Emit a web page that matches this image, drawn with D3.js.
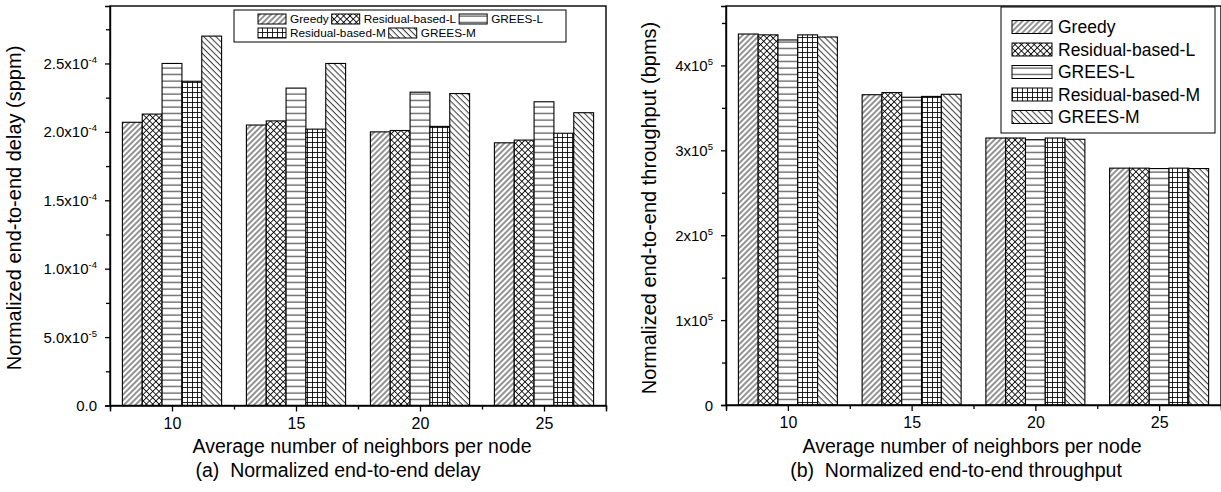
<!DOCTYPE html>
<html>
<head>
<meta charset="utf-8">
<script src="https://cdn.jsdelivr.net/npm/d3@7"></script>
<style>
  html, body { margin: 0; padding: 0; background: #fff; }
  svg { display: block; font-family: "Liberation Sans", Arial, sans-serif; }
</style>
</head>
<body>
<svg id="chart" width="1221" height="492"></svg>
<script>
// ---------------- data ----------------
const categories = [10, 15, 20, 25];
const seriesNames = ["Greedy", "Residual-based-L", "GREES-L", "Residual-based-M", "GREES-M"];

// (a) Normalized end-to-end delay (sppm)
const delayGreedy = [2.07e-4, 2.05e-4, 2.00e-4, 1.92e-4];
const delayResidualL = [2.13e-4, 2.08e-4, 2.01e-4, 1.94e-4];
const delayGreesL = [2.50e-4, 2.32e-4, 2.29e-4, 2.22e-4];
const delayResidualM = [2.37e-4, 2.02e-4, 2.04e-4, 1.99e-4];
const delayGreesM = [2.70e-4, 2.50e-4, 2.28e-4, 2.14e-4];

// (b) Normalized end-to-end throughput (bpms)
const thrGreedy = [4.37e5, 3.655e5, 3.145e5, 2.79e5];
const thrResidualL = [4.36e5, 3.68e5, 3.145e5, 2.79e5];
const thrGreesL = [4.30e5, 3.625e5, 3.125e5, 2.785e5];
const thrResidualM = [4.36e5, 3.635e5, 3.145e5, 2.79e5];
const thrGreesM = [4.335e5, 3.66e5, 3.13e5, 2.785e5];

// tick labels
const delayTicks = [0, 5e-5, 1e-4, 1.5e-4, 2e-4, 2.5e-4];
const delayTickMantissa = ["0.0", "5.0x10", "1.0x10", "1.5x10", "2.0x10", "2.5x10"];
const delayTickExponent = ["", "-5", "-4", "-4", "-4", "-4"];
const thrTicks = [0, 1e5, 2e5, 3e5, 4e5];
const thrTickMantissa = ["0", "1x10", "2x10", "3x10", "4x10"];
const thrTickExponent = ["", "5", "5", "5", "5"];

const xTitle = "Average number of neighbors per node";
const delayYTitle = "Normalized end-to-end delay (sppm)";
const thrYTitle = "Normalized end-to-end throughput (bpms)";
const captionA = "(a)  Normalized end-to-end delay";
const captionB = "(b)  Normalized end-to-end throughput";

// ---------------- drawing ----------------
const svg = d3.select("#chart");
const defs = svg.append("defs");
const patternIds = ["pGreedy", "pResL", "pGreesL", "pResM", "pGreesM"];

function linePattern(id, w, h, transform, lines) {
  const p = defs.append("pattern").attr("id", id)
    .attr("patternUnits", "userSpaceOnUse").attr("width", w).attr("height", h);
  if (transform) p.attr("patternTransform", transform);
  p.append("rect").attr("width", w).attr("height", h).attr("fill", "#fff");
  lines.forEach(l => p.append("line").attr("x1", l[0]).attr("y1", l[1]).attr("x2", l[2]).attr("y2", l[3])
    .attr("stroke", "#000").attr("stroke-width", 0.85));
}
linePattern("pGreedy", 4, 4, "rotate(45)", [[2, 0, 2, 4]]);
linePattern("pGreesM", 4.3, 4, "rotate(-45)", [[2, 0, 2, 4]]);
linePattern("pGreesL", 10, 6.5, null, [[0, 3, 10, 3]]);
linePattern("pResM", 5, 5, null, [[0, 2.5, 5, 2.5], [2.5, 0, 2.5, 5]]);
linePattern("pResL", 4.5, 4.5, "rotate(45)", [[0, 2.25, 4.5, 2.25], [2.25, 0, 2.25, 4.5]]);

function drawPanel(cfg) {
  const g = svg.append("g");
  const x = d3.scaleLinear().domain([7.5, 27.5]).range([cfg.left, cfg.right]);
  const y = d3.scaleLinear().domain([0, cfg.yMax]).range([cfg.bottom, cfg.top]);
  const barW = 0.8;

  // bars
  cfg.series.forEach((vals, si) => {
    g.selectAll(null).data(vals).enter().append("rect")
      .attr("x", (d, i) => x(categories[i] + (si - 2.5) * barW))
      .attr("y", d => y(d))
      .attr("width", x(barW) - x(0))
      .attr("height", d => y(0) - y(d))
      .attr("fill", `url(#${patternIds[si]})`)
      .attr("stroke", "#000").attr("stroke-width", 1.1);
  });

  // frame
  g.append("rect").attr("x", cfg.left).attr("y", cfg.top)
    .attr("width", cfg.right - cfg.left).attr("height", cfg.bottom - cfg.top)
    .attr("fill", "none").attr("stroke", "#000").attr("stroke-width", 1.4);

  // x axis
  const xAxis = d3.axisBottom(x).tickValues(categories).tickSize(6).tickFormat(d3.format("d"));
  const xa = g.append("g").attr("transform", `translate(0,${cfg.bottom})`).call(xAxis);
  xa.select(".domain").attr("stroke-width", 1.4);
  xa.selectAll(".tick line").attr("stroke-width", 1.3);
  xa.selectAll("text").attr("font-size", 16).attr("font-family", "Liberation Sans, Arial, sans-serif")
    .attr("fill", "#000").attr("y", 12);
  const xMinor = d3.axisBottom(x).tickValues([7.5, 12.5, 17.5, 22.5, 27.5]).tickSize(4).tickFormat("");
  const xm = g.append("g").attr("transform", `translate(0,${cfg.bottom})`).call(xMinor);
  xm.select(".domain").remove();
  xm.selectAll(".tick line").attr("stroke-width", 1.3);

  // y axis
  const yAxis = d3.axisLeft(y).tickValues(cfg.ticks).tickSize(5).tickFormat("");
  const ya = g.append("g").attr("transform", `translate(${cfg.left},0)`).call(yAxis);
  ya.select(".domain").attr("stroke-width", 1.4);
  ya.selectAll(".tick line").attr("stroke-width", 1.3);
  const yMinor = d3.axisLeft(y).tickValues(cfg.minorTicks).tickSize(4).tickFormat("");
  const ym = g.append("g").attr("transform", `translate(${cfg.left},0)`).call(yMinor);
  ym.select(".domain").remove();
  ym.selectAll(".tick line").attr("stroke-width", 1.3);

  // y tick labels with superscripts
  cfg.ticks.forEach((t, i) => {
    const tx = g.append("text").attr("x", cfg.left - 13).attr("y", y(t) + 5.5)
      .attr("text-anchor", "end").attr("font-size", 15).attr("fill", "#000");
    tx.append("tspan").text(cfg.mantissa[i]);
    if (cfg.exponent[i]) {
      tx.append("tspan").attr("dy", -6).attr("font-size", 9.5).text(cfg.exponent[i]);
    }
  });

  // titles
  g.append("text").attr("x", cfg.xTitleX).attr("y", 453).attr("text-anchor", "middle")
    .attr("font-size", 19.5).attr("fill", "#000").text(xTitle);
  g.append("text").attr("x", cfg.captionX).attr("y", 477).attr("text-anchor", "middle")
    .style("white-space", "pre").attr("xml:space", "preserve")
    .attr("font-size", 19.5).attr("fill", "#000").text(cfg.caption);
  g.append("text").attr("transform", `translate(${cfg.yTitleX},${208}) rotate(-90)`)
    .attr("text-anchor", "middle").attr("font-size", 20).attr("fill", "#000").text(cfg.yTitle);
  return {x, y};
}

drawPanel({
  left: 110, right: 606, top: 6, bottom: 405.5, yMax: 2.92e-4,
  series: [delayGreedy, delayResidualL, delayGreesL, delayResidualM, delayGreesM],
  ticks: delayTicks, mantissa: delayTickMantissa, exponent: delayTickExponent,
  minorTicks: d3.range(0, 11).map(k => 2.5e-5 + k * 5e-5).filter(v => v < 2.92e-4),
  xTitleX: 362, captionX: 338, yTitleX: 21, yTitle: delayYTitle, caption: captionA
});
drawPanel({
  left: 726, right: 1221, top: 6, bottom: 405, yMax: 4.7e5,
  series: [thrGreedy, thrResidualL, thrGreesL, thrResidualM, thrGreesM],
  ticks: thrTicks, mantissa: thrTickMantissa, exponent: thrTickExponent,
  minorTicks: d3.range(0, 10).map(k => 0.5e5 + k * 1e5).filter(v => v < 4.7e5),
  xTitleX: 972, captionX: 956, yTitleX: 656, yTitle: thrYTitle, caption: captionB
});

// ---------------- legends ----------------
// (a) compact two-row legend
const la = svg.append("g");
la.append("rect").attr("x", 234).attr("y", 10).attr("width", 332).attr("height", 32)
  .attr("fill", "#fff").attr("stroke", "#000").attr("stroke-width", 1);
const rowsA = [[0, 1, 2], [3, 4]];
rowsA.forEach((row, ri) => {
  let cx = 258;
  const cy = 19 + ri * 14;
  row.forEach(si => {
    la.append("rect").attr("x", cx).attr("y", cy - 5).attr("width", 28).attr("height", 10)
      .attr("fill", `url(#${patternIds[si]})`).attr("stroke", "#000").attr("stroke-width", 1);
    const t = la.append("text").attr("x", cx + 32).attr("y", cy + 4.2)
      .attr("font-size", 11.8).attr("fill", "#000").text(seriesNames[si]);
    cx += 32 + t.node().getComputedTextLength() + 3;
  });
});

// (b) vertical legend
const lb = svg.append("g");
lb.append("rect").attr("x", 1001).attr("y", 7).attr("width", 214).attr("height", 126)
  .attr("fill", "#fff").attr("stroke", "#000").attr("stroke-width", 1);
seriesNames.forEach((name, si) => {
  const cy = 27 + si * 22.5;
  lb.append("rect").attr("x", 1012).attr("y", cy - 6.5).attr("width", 40).attr("height", 13)
    .attr("fill", `url(#${patternIds[si]})`).attr("stroke", "#000").attr("stroke-width", 1);
  lb.append("text").attr("x", 1058).attr("y", cy + 6).attr("font-size", 17.5)
    .attr("fill", "#000").text(name);
});
</script>
</body>
</html>
